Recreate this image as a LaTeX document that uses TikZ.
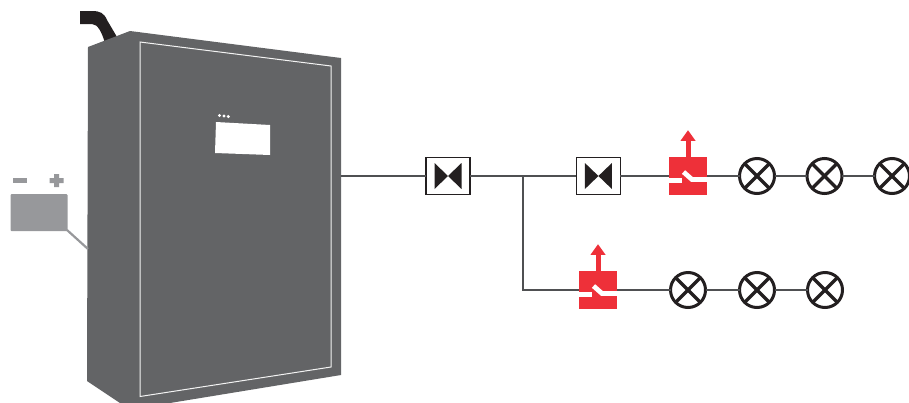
\documentclass[tikz,border=0pt]{standalone}
\usetikzlibrary{calc}
\definecolor{cabinet}{HTML}{636466}
\definecolor{ink}{HTML}{231F20}
\definecolor{wire}{HTML}{4F5052}
\definecolor{batt}{HTML}{97989B}
\definecolor{alarm}{HTML}{EE3039}
\tikzset{
  wireline/.style={draw=wire,line width=1.7pt},
  valvebox/.style={draw=ink,fill=white,line width=1.2pt,minimum width=44pt,minimum height=36.4pt,inner sep=0pt,outer sep=0pt,
    path picture={
      \fill[ink] ($(path picture bounding box.center)+(-13.5,-13)$) -- ++(13.5,13) -- ++(13.5,-13) -- ++(0,26) -- ++(-13.5,-13) -- ++(-13.5,13) -- cycle;
    }},
  lampnode/.style={circle,draw=ink,fill=white,line width=3pt,minimum size=35pt,inner sep=0pt,outer sep=0pt,
    path picture={
      \draw[ink,line width=3.4pt] ($(path picture bounding box.center)+(-14,-14)$) -- ($(path picture bounding box.center)+(14,14)$);
      \draw[ink,line width=3.4pt] ($(path picture bounding box.center)+(-14,14)$) -- ($(path picture bounding box.center)+(14,-14)$);
    }},
  switchnode/.style={fill=alarm,minimum width=38pt,minimum height=38.5pt,inner sep=0pt,outer sep=0pt,
    path picture={
      \draw[white,line width=4.8pt] ($(path picture bounding box.center)+(-20,4.5)$) -- ++(14,0);
      \draw[white,line width=4.8pt,line join=miter] ($(path picture bounding box.center)+(-4.5,-4)$) -- ++(8.5,7.5) -- ++(17,0);
    }},
  alarmarrow/.style={alarm,line width=5pt},
  alarmhead/.style={fill=alarm},
}
\begin{document}
\begin{tikzpicture}[x=1pt,y=-1pt]
\useasboundingbox (0,0) rectangle (909,402);
\begin{scope}
\clip (0,0) rectangle (909,402);
% cable
\fill[ink] (80,11) -- (92,11) .. controls (100,11) and (104,13) .. (107,20) -- (117,37) -- (105,43) .. controls (102,33) and (98,24) .. (92,24) -- (80,24) -- cycle;
% cabinet
\fill[cabinet] (88,47) -- (130,31) -- (341,58) -- (341,375) -- (170,403) -- (120,403) -- (87,381) -- cycle;
\draw[white!92!cabinet,line width=1pt] (140,42) -- (331,66) -- (331,367) -- (140,396.5) -- cycle;
% display
\fill[white] (216,122) -- (270,125) -- (270,155) -- (215,153) -- cycle;
\fill[white] (219.5,115.5) circle (1.7) (224,116) circle (1.7) (228.3,116.5) circle (1.7);
\coordinate (cabR) at (341,176);
\coordinate (cabL) at (88,249);
% battery
\node[fill=batt,rounded corners=1pt,minimum width=57pt,minimum height=37pt,inner sep=0pt,outer sep=0pt] (battery) at (39,212.5) {};
\fill[batt] (13,178) rectangle (27,183);
\fill[batt] (49.5,178) rectangle (63.5,183) (54,174) rectangle (59,187);
\draw[batt,line width=2.2pt] (battery.south east) ++(-.5,-1) -- (cabL);
% nodes
\node[valvebox] (v1) at (448,176) {};
\node[valvebox] (v2) at (598.4,176) {};
\node[switchnode] (s1) at (688,176) {};
\node[switchnode] (s2) at (598,290) {};
\coordinate (j) at (522.7,176);
\node[lampnode] (a1) at (757,176) {};
\node[lampnode] (a2) at (824.5,176) {};
\node[lampnode] (a3) at (892,176) {};
\node[lampnode] (b1) at (688,290) {};
\node[lampnode] (b2) at (757,290) {};
\node[lampnode] (b3) at (825,290) {};
% connectors
\draw[wireline] (cabR) -- (v1.west);
\draw[wireline] (v1.east) -- (v2.west);
\draw[wireline] (v2.east) -- (s1.west);
\draw[wireline] (s1.east) -- (a1.west);
\draw[wireline] (a1.east) -- (a2.west);
\draw[wireline] (a2.east) -- (a3.west);
\draw[wireline] (j) |- (s2.west);
\draw[wireline] (s2.east) -- (b1.west);
\draw[wireline] (b1.east) -- (b2.west);
\draw[wireline] (b2.east) -- (b3.west);
% alarm arrows
\draw[alarmarrow] (s1.north) -- ++(0,-18);
\fill[alarmhead] ($(s1.north)+(0,-26.5)$) -- ++(7.5,10.5) -- ++(-15,0) -- cycle;
\draw[alarmarrow] (s2.north) -- ++(0,-18);
\fill[alarmhead] ($(s2.north)+(0,-26.5)$) -- ++(7.5,10.5) -- ++(-15,0) -- cycle;
\end{scope}
\end{tikzpicture}
\end{document}
